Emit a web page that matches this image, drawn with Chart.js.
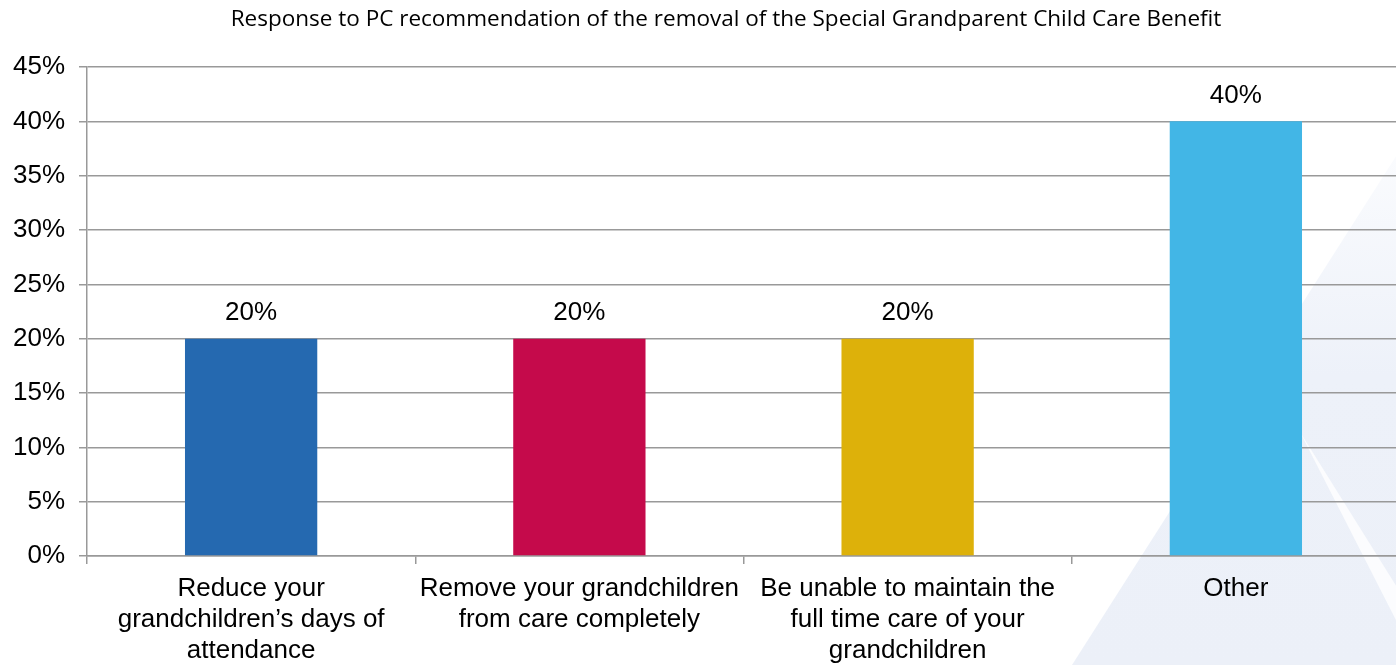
<!DOCTYPE html>
<html lang="en">
<head>
    <meta charset="UTF-8">
    <title>Special Grandparent Child Care Benefit</title>
    <script src="https://cdn.jsdelivr.net/npm/chart.js"></script>
    <style>
        body { margin: 0; overflow: hidden; background: #fff; }
        #wrap { width: 1400px; height: 665px; position: relative; }
    </style>
</head>
<body>
    <div id="wrap"><canvas id="dataChart"></canvas></div>

    <script>
        const titleText = 'Response to PC recommendation of the removal of the Special Grandparent Child Care Benefit';
        const categories = [
            ['Reduce your', 'grandchildren\u2019s days of', 'attendance'],
            ['Remove your grandchildren', 'from care completely'],
            ['Be unable to maintain the', 'full time care of your', 'grandchildren'],
            'Other'
        ];
        const values = [20, 20, 20, 40];
        const barColors = ['#2569B0', '#C50A4B', '#DDB10A', '#42B6E6'];
        const yMax = 45;
        const yStep = 5;

        // faint triangle watermark on the right side
        const backdrop = {
            id: 'backdrop',
            beforeDraw(chart) {
                let ctx = chart.ctx;
                ctx.save();
                let grad = ctx.createLinearGradient(0, 140, 0, 665);
                grad.addColorStop(0, '#FBFCFE');
                grad.addColorStop(0.45, '#EDF1F9');
                grad.addColorStop(1, '#ECF0F8');
                ctx.fillStyle = grad;
                ctx.beginPath();
                ctx.moveTo(1072, 665);
                ctx.lineTo(1400, 150);
                ctx.lineTo(1400, 665);
                ctx.closePath();
                ctx.fill();
                ctx.fillStyle = 'rgba(255,255,255,0.8)';
                ctx.beginPath();
                ctx.moveTo(1300, 432);
                ctx.lineTo(1400, 592);
                ctx.lineTo(1400, 628);
                ctx.closePath();
                ctx.fill();
                ctx.restore();
            }
        };

        // title sits a little right of the canvas centre in the original
        const topTitle = {
            id: 'topTitle',
            afterDraw(chart) {
                let ctx = chart.ctx;
                ctx.save();
                ctx.font = '22.5px "Open Sans", sans-serif';
                ctx.fillStyle = '#000';
                ctx.textAlign = 'center';
                ctx.textBaseline = 'middle';
                ctx.fillText(titleText, 726, 20);
                ctx.restore();
            }
        };

        const valueLabels = {
            id: 'valueLabels',
            afterDatasetsDraw(chart) {
                let ctx = chart.ctx;
                ctx.save();
                ctx.font = '26px "Liberation Sans", Arial, sans-serif';
                ctx.fillStyle = '#000';
                ctx.textAlign = 'center';
                ctx.textBaseline = 'middle';
                chart.getDatasetMeta(0).data.forEach((bar, i) => {
                    ctx.fillText(values[i] + '%', bar.x, bar.y - 26);
                });
                ctx.restore();
            }
        };

        let ctx = document.getElementById('dataChart').getContext('2d');
        new Chart(ctx, {
            type: 'bar',
            data: {
                labels: categories,
                datasets: [{
                    data: values,
                    backgroundColor: barColors,
                    categoryPercentage: 1,
                    barPercentage: 0.403
                }]
            },
            options: {
                responsive: true,
                maintainAspectRatio: false,
                animation: false,
                layout: { padding: { top: 67, right: 0, bottom: 0, left: 0 } },
                plugins: {
                    legend: { display: false },
                    tooltip: { enabled: false },
                    title: { display: false }
                },
                scales: {
                    x: {
                        grid: {
                            display: true,
                            drawOnChartArea: false,
                            drawTicks: true,
                            tickLength: 8,
                            color: '#999',
                            lineWidth: 1.5
                        },
                        border: { color: '#999', width: 1.5 },
                        ticks: {
                            color: '#000',
                            font: { family: '"Liberation Sans", Arial, sans-serif', size: 26, lineHeight: 1.2 },
                            padding: 9,
                            maxRotation: 0,
                            autoSkip: false
                        },
                        afterFit(scale) { scale.height = 109; }
                    },
                    y: {
                        min: 0,
                        max: yMax,
                        grid: {
                            color: '#999',
                            lineWidth: 1.5,
                            tickLength: 8
                        },
                        border: { color: '#999', width: 1.5 },
                        ticks: {
                            stepSize: yStep,
                            color: '#000',
                            padding: 14,
                            font: { family: '"Liberation Sans", Arial, sans-serif', size: 26 },
                            callback: v => v + '%'
                        },
                        afterFit(scale) { scale.width = 87; }
                    }
                }
            },
            plugins: [backdrop, topTitle, valueLabels]
        });
    </script>
</body>
</html>
